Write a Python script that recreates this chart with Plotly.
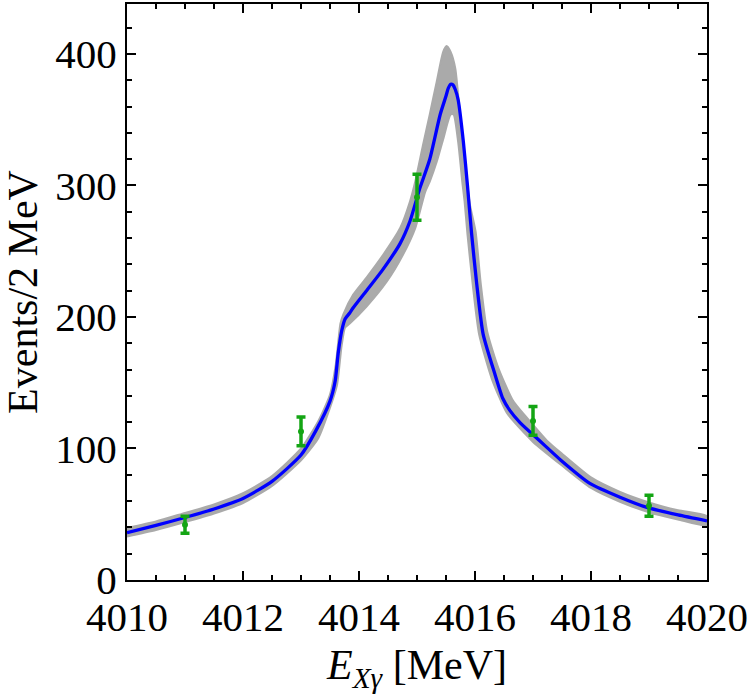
import plotly.graph_objects as go

# Data points with error bars
data_x = [4011, 4013, 4015, 4017, 4019]
data_y = [42, 113, 291, 121, 56.5]
data_err = [6.5, 11, 17.5, 11, 8]

# Central fit curve
curve_x = [4010, 4010.5, 4011, 4011.5, 4012, 4012.5, 4013, 4013.25, 4013.5, 4013.59,
           4013.64, 4013.7, 4013.76, 4013.84, 4013.9, 4014.13, 4014.41, 4014.71, 4014.88,
           4015.05, 4015.22, 4015.4, 4015.5, 4015.54, 4015.58, 4015.62, 4015.66, 4015.71,
           4015.8, 4015.87, 4015.94, 4016.03, 4016.14, 4016.34, 4016.48, 4016.6, 4016.78,
           4017.0, 4017.21, 4017.47, 4017.98, 4018.5, 4018.98, 4019.5, 4020]
curve_y = [36, 41.5, 47.5, 54, 62, 75, 95, 113, 136, 151.5,
           172, 189, 198.5, 203, 207, 220, 236, 256, 273,
           298, 320, 354, 368, 374, 377, 376.5, 373, 365,
           333, 300, 264, 225, 187, 157, 138, 129, 119.5,
           110.5, 102, 91.5, 73.5, 63, 55, 49.5, 45]

# Uncertainty band: upper/left edge (increasing x)
band_up_x = [4010, 4010.5, 4011, 4011.5, 4012, 4012.5, 4013, 4013.3, 4013.5, 4013.6,
             4013.68, 4013.73, 4013.9, 4014.13, 4014.42, 4014.71, 4014.88, 4014.97, 4015.1,
             4015.22, 4015.34, 4015.45, 4015.51, 4015.58, 4015.66, 4015.74, 4015.83, 4015.91,
             4016.01, 4016.10, 4016.21, 4016.40, 4016.66, 4017.0, 4017.24, 4017.5, 4018,
             4018.5, 4019, 4019.5, 4020]
band_up_y = [39.5, 44.5, 51, 57.5, 66, 79, 100, 121, 141, 164,
             195, 202, 217, 230, 247.5, 267.7, 288, 303, 330,
             354, 379, 401.5, 406, 401.5, 389, 354, 316, 286,
             265, 225, 189, 161.6, 136, 118, 106, 96, 78,
             67, 59, 53, 48.5]
# Uncertainty band: lower/right edge (decreasing x)
band_lo_x = [4020, 4019.5, 4019, 4018.5, 4018, 4017.5, 4017, 4016.89, 4016.55, 4016.29,
             4016.07, 4015.96, 4015.87, 4015.82, 4015.78, 4015.71, 4015.63, 4015.58, 4015.45,
             4015.34, 4015.22, 4015.14, 4014.97, 4014.76, 4014.48, 4014.13, 4013.84, 4013.76,
             4013.7, 4013.62, 4013.5, 4013.3, 4013, 4012.5, 4012, 4011.5, 4011, 4010.5, 4010]
band_lo_y = [41.5, 46, 51.5, 59.5, 70, 87, 105, 110, 127, 153,
             187, 225, 263, 288, 303, 333, 354, 354, 335,
             318, 303, 295, 267.6, 247.5, 227, 208, 195, 192,
             178, 148, 131, 108, 91, 71.5, 58.5, 50.5, 44, 38, 33]

x_ticks = [4010, 4012, 4014, 4016, 4018, 4020]
y_ticks = [0, 100, 200, 300, 400]

fig = go.Figure()

fig.add_trace(go.Scatter(
    x=band_up_x + band_lo_x, y=band_up_y + band_lo_y,
    fill="toself", fillcolor="#aaaaaa", mode="lines",
    line=dict(color="#aaaaaa", width=2, shape="spline", smoothing=0.6),
    hoverinfo="skip", showlegend=False))

fig.add_trace(go.Scatter(
    x=curve_x, y=curve_y, mode="lines",
    line=dict(color="#0000ff", width=3.3, shape="spline", smoothing=0.6),
    showlegend=False))

fig.add_trace(go.Scatter(
    x=data_x, y=data_y, mode="markers",
    marker=dict(color="#14a514", size=6),
    error_y=dict(type="data", array=data_err, color="#14a514", thickness=3.5, width=4.5),
    showlegend=False))

font_family = "Liberation Serif, Times New Roman, serif"
fs_tick = 41
fs_title = 42
fig.update_layout(
    width=750, height=694,
    margin=dict(l=127, r=43, t=2, b=114),
    paper_bgcolor="white", plot_bgcolor="white",
    font=dict(family=font_family, size=fs_title, color="black"),
    xaxis=dict(
        range=[4010, 4020], tickvals=x_ticks, ticktext=[str(v) for v in x_ticks],
        ticks="inside", ticklen=9, tickwidth=1.5, tickcolor="black",
        minor=dict(ticks="inside", ticklen=5, tickwidth=1.5, tickcolor="black", dtick=0.5),
        showline=True, linecolor="black", linewidth=2, mirror="allticks",
        showgrid=False, zeroline=False,
        tickfont=dict(family=font_family, size=fs_tick, color="black"),
        title=dict(text="<i>E</i><sub><i>Xγ</i></sub> [MeV]",
                   font=dict(family=font_family, size=fs_title, color="black"), standoff=11),
    ),
    yaxis=dict(
        range=[0, 438], tickvals=y_ticks, ticktext=[str(v) for v in y_ticks],
        ticks="inside", ticklen=9, tickwidth=1.5, tickcolor="black",
        minor=dict(ticks="inside", ticklen=5, tickwidth=1.5, tickcolor="black", dtick=20),
        showline=True, linecolor="black", linewidth=2, mirror="allticks",
        showgrid=False, zeroline=False,
        tickfont=dict(family=font_family, size=fs_tick, color="black"),
        title=dict(text="Events/2 MeV", font=dict(family=font_family, size=fs_title, color="black"),
                   standoff=7),
    ),
)

fig.write_html("out.html")
